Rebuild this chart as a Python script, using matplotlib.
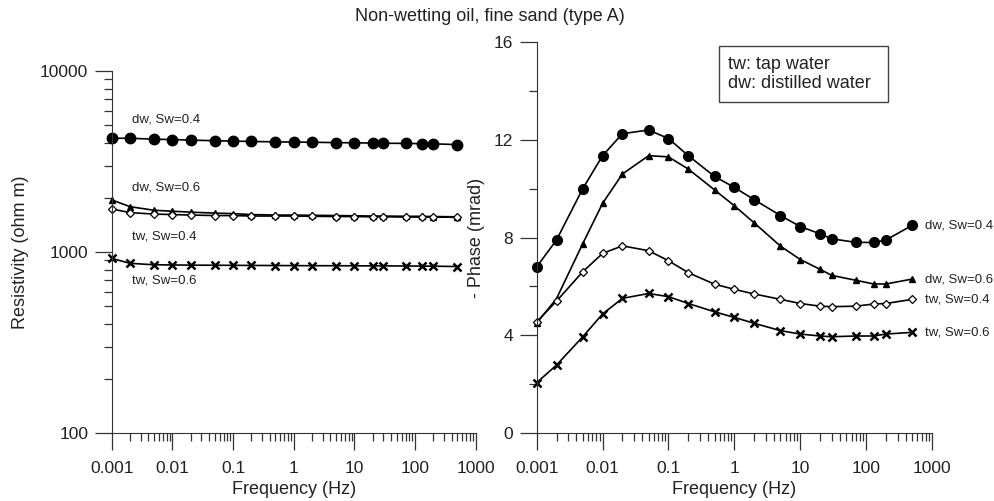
import numpy as np
import matplotlib.pyplot as plt
from matplotlib.patches import Rectangle
from matplotlib.ticker import FixedLocator, FixedFormatter, NullFormatter

plt.rcParams['font.family'] = ['Liberation Sans', 'DejaVu Sans']

# ======================
# DONNÉES
# ======================
freq = [0.001, 0.002, 0.005, 0.01, 0.02, 0.05, 0.1, 0.2, 0.5, 1, 2, 5,
        10, 20, 30, 70, 130, 200, 500]

# résistivité (ohm m)
rho_dw_04 = [4250, 4250, 4200, 4180, 4150, 4120, 4100, 4080, 4060, 4050,
             4040, 4020, 4010, 4000, 3990, 3980, 3970, 3960, 3920]
rho_dw_06 = [1940, 1780, 1700, 1680, 1660, 1640, 1630, 1610, 1600, 1600,
             1595, 1590, 1585, 1580, 1580, 1575, 1575, 1570, 1565]
rho_tw_04 = [1730, 1650, 1620, 1610, 1600, 1590, 1590, 1580, 1580, 1580,
             1575, 1570, 1570, 1565, 1565, 1560, 1560, 1560, 1555]
rho_tw_06 = [922, 866, 850, 848, 846, 845, 844, 843, 842, 841,
             840, 840, 839, 838, 838, 837, 836, 835, 831]

# -phase (mrad)
ph_dw_04 = [6.8, 7.9, 10.0, 11.35, 12.25, 12.4, 12.05, 11.35, 10.5, 10.05,
            9.55, 8.9, 8.45, 8.15, 7.95, 7.8, 7.8, 7.9, 8.5]
ph_dw_06 = [4.5, 5.5, 7.75, 9.4, 10.6, 11.35, 11.3, 10.8, 9.95, 9.3,
            8.6, 7.65, 7.1, 6.7, 6.45, 6.25, 6.1, 6.1, 6.3]
ph_tw_04 = [4.55, 5.4, 6.6, 7.35, 7.66, 7.46, 7.05, 6.56, 6.09, 5.88,
            5.69, 5.47, 5.3, 5.19, 5.17, 5.19, 5.28, 5.3, 5.47]
ph_tw_06 = [2.06, 2.78, 3.94, 4.87, 5.51, 5.71, 5.58, 5.3, 4.96, 4.73,
            4.49, 4.19, 4.05, 3.97, 3.94, 3.97, 3.97, 4.05, 4.12]

labels = ["dw, Sw=0.4", "dw, Sw=0.6", "tw, Sw=0.4", "tw, Sw=0.6"]
xticks = [0.001, 0.01, 0.1, 1, 10, 100, 1000]
xticklabels = ["0.001", "0.01", "0.1", "1", "10", "100", "1000"]

TXT = "#222222"
styles = [
    dict(marker="o", ms=7.5, mfc="k", mec="k"),
    dict(marker="^", ms=5, mfc="k", mec="k"),
    dict(marker="D", ms=4.5, mfc="white", mec="k", mew=0.9),
    dict(marker="x", ms=5.5, mec="k", mew=1.8),
]


def style_axes(ax):
    ax.spines["top"].set_visible(False)
    ax.spines["right"].set_visible(False)
    ax.spines["left"].set_color("#333333")
    ax.spines["bottom"].set_color("#333333")
    ax.set_xscale("log")
    ax.set_xlim(0.001, 1000)
    ax.xaxis.set_major_locator(FixedLocator(xticks))
    ax.xaxis.set_major_formatter(FixedFormatter(xticklabels))
    minors = [m * 10.0 ** e for e in range(-3, 3) for m in range(2, 10)]
    ax.xaxis.set_minor_locator(FixedLocator(minors))
    ax.xaxis.set_minor_formatter(NullFormatter())
    ax.tick_params(which="major", length=12, width=0.9, color="#333333",
                   labelsize=12.5, labelcolor=TXT)
    ax.tick_params(axis="x", which="major", pad=8)
    ax.tick_params(axis="y", which="major", pad=5)
    ax.tick_params(which="minor", length=6, width=0.9, color="#333333")
    ax.set_xlabel("Frequency (Hz)", fontsize=13, color=TXT, labelpad=4)


fig = plt.figure(figsize=(9.95, 5.01), dpi=100)

# --- panneau gauche : résistivité
ax1 = fig.add_axes([0.1123, 0.1357, 0.3658, 0.7226])
style_axes(ax1)
ax1.set_yscale("log")
ax1.set_ylim(100, 10000)
ax1.yaxis.set_major_locator(FixedLocator([100, 1000, 10000]))
ax1.yaxis.set_major_formatter(FixedFormatter(["100", "1000", "10000"]))
ax1.yaxis.set_minor_locator(FixedLocator([m * 10.0 ** e for e in (2, 3) for m in range(2, 10)]))
ax1.yaxis.set_minor_formatter(NullFormatter())
ax1.set_ylabel("Resistivity (ohm m)", fontsize=13, color=TXT, labelpad=8)

for ys, st in zip([rho_dw_04, rho_dw_06, rho_tw_04, rho_tw_06], styles):
    ax1.plot(freq, ys, color="k", lw=1.2, clip_on=False, **st)

trans1 = ax1.get_yaxis_transform()
# positions des étiquettes (y en données)
lab_y_left = [5400, 2270, 1225, 693]
for lab, yy in zip(labels, lab_y_left):
    ax1.text(0.055, yy, lab, transform=trans1, fontsize=9.5, color=TXT,
             va="center", ha="left")

# --- panneau droit : phase
ax2 = fig.add_axes([0.5394, 0.1357, 0.3973, 0.7804])
style_axes(ax2)
ax2.set_ylim(0, 16)
ax2.yaxis.set_major_locator(FixedLocator([0, 4, 8, 12, 16]))
ax2.yaxis.set_minor_locator(FixedLocator([2, 6, 10, 14]))
ax2.set_ylabel("- Phase (mrad)", fontsize=13, color=TXT, labelpad=6)

for ys, st, lab in zip([ph_dw_04, ph_dw_06, ph_tw_04, ph_tw_06], styles, labels):
    st2 = dict(st)
    if st2["marker"] == "o":
        st2["ms"] = 7
    ax2.plot(freq, ys, color="k", lw=1.2, clip_on=False, **st2)
    ax2.annotate(lab, xy=(freq[-1], ys[-1]), xytext=(9, 0),
                 textcoords="offset points", fontsize=9.5, color=TXT,
                 va="center", ha="left", annotation_clip=False)

# encadré de légende
ax2.add_patch(Rectangle((0.461, 0.8465), 0.4275, 0.1433, transform=ax2.transAxes,
                        fc="white", ec="#444444", lw=1, clip_on=False))
ax2.text(0.484, 0.942, "tw: tap water", transform=ax2.transAxes,
         fontsize=13, color=TXT, va="center", ha="left")
ax2.text(0.484, 0.895, "dw: distilled water", transform=ax2.transAxes,
         fontsize=13, color=TXT, va="center", ha="left")

fig.text(0.492, 0.968, "Non-wetting oil, fine sand (type A)", fontsize=13,
         color=TXT, ha="center", va="center")

fig.savefig("out.png", dpi=100)
